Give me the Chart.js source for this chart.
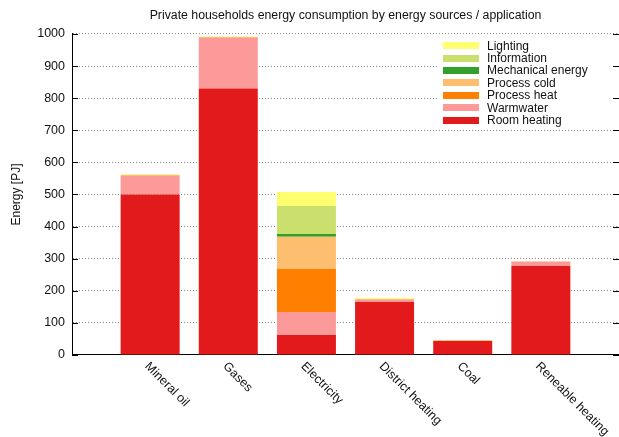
<!DOCTYPE html>
<html>
<head>
<meta charset="utf-8">
<script src="https://cdn.jsdelivr.net/npm/chart.js@4"></script>
<style>
  html, body { margin: 0; padding: 0; background: #fff; }
</style>
</head>
<body>
<canvas id="chart" width="619" height="437"></canvas>
<script>
// energy sources (x) and consumption per application in PJ
const categories = ["Mineral oil", "Gases", "Electricity", "District heating", "Coal", "Reneable heating"];
const roomHeating = [500, 830, 62, 165, 44, 277];
const warmwater   = [60, 160, 72, 9, 0, 14];
const processHeat = [0, 0, 134, 0, 0, 0];
const processCold = [0, 0, 100, 0, 0, 0];
const mechanical  = [0, 0, 9, 0, 0, 0];
const information = [0, 0, 87, 0, 0, 0];
const lighting    = [4, 3, 44, 4, 3, 2];
const yTicks = [0, 100, 200, 300, 400, 500, 600, 700, 800, 900, 1000];

const FONT = "'Liberation Sans', Arial, sans-serif";

// put each category at x = 0..5 so the axis can run from -1 to 6
const pts = arr => arr.map((v, i) => ({x: i, y: v}));

const series = [
  {label: "Room heating",      data: roomHeating, color: "#e31a1c"},
  {label: "Warmwater",         data: warmwater,   color: "#fb9a99"},
  {label: "Process heat",      data: processHeat, color: "#ff7f00"},
  {label: "Process cold",      data: processCold, color: "#fdbf6f"},
  {label: "Mechanical energy", data: mechanical,  color: "#33a02c"},
  {label: "Information",       data: information, color: "#cbdf6e"},
  {label: "Lighting",          data: lighting,    color: "#ffff70"}
];

// legend box inside the plot, top right, last series first
const legendBox = {
  id: "legendBox",
  beforeDatasetsDraw(chart) {
    const ctx = chart.ctx;
    ctx.save();
    ctx.fillStyle = "#fff";
    ctx.fillRect(437, 37, 175, 91);
    ctx.font = "12px " + FONT;
    ctx.textAlign = "left";
    ctx.textBaseline = "middle";
    const ds = chart.data.datasets.slice().reverse();
    ds.forEach((d, i) => {
      const y = 45.7 + i * 12.4;
      ctx.fillStyle = d.backgroundColor;
      ctx.fillRect(443, Math.round(y - 3.5), 36, 7);
      ctx.fillStyle = "#111";
      ctx.fillText(d.label, 487, y + 0.5);
    });
    ctx.restore();
  }
};

// inward ticks on both sides and slanted category labels
const axisDeco = {
  id: "axisDeco",
  afterDraw(chart) {
    const ctx = chart.ctx;
    const {left, right, bottom} = chart.chartArea;
    const ys = chart.scales.y, xs = chart.scales.x;
    ctx.save();
    ctx.strokeStyle = "#000";
    ctx.lineWidth = 1;
    yTicks.forEach(v => {
      const py = Math.round(ys.getPixelForValue(v)) + 0.5;
      ctx.beginPath();
      ctx.moveTo(left, py); ctx.lineTo(left + 6, py);
      ctx.moveTo(right - 6, py); ctx.lineTo(right, py);
      ctx.stroke();
    });
    ctx.fillStyle = "#111";
    ctx.font = "12.5px " + FONT;
    ctx.textAlign = "left";
    ctx.textBaseline = "top";
    categories.forEach((c, i) => {
      const px = xs.getPixelForValue(i);
      ctx.save();
      ctx.translate(px + 1, bottom + 5);
      ctx.rotate(Math.PI / 4);
      ctx.fillText(c, 0, 0);
      ctx.restore();
    });
    ctx.restore();
  }
};

new Chart(document.getElementById("chart"), {
  type: "bar",
  data: {
    datasets: series.map(s => ({
      label: s.label,
      data: pts(s.data),
      backgroundColor: s.color,
      borderWidth: 0,
      barPercentage: 0.755,
      categoryPercentage: 1
    }))
  },
  options: {
    responsive: false,
    animation: false,
    devicePixelRatio: 1,
    layout: {padding: {left: 0, right: 0, top: 0, bottom: 0}},
    plugins: {
      legend: {display: false},
      tooltip: {enabled: false},
      title: {
        display: true,
        fullSize: false,
        text: "Private households energy consumption by energy sources / application",
        color: "#111",
        font: {family: FONT, size: 12.3, weight: "normal", lineHeight: 1.2},
        padding: {top: 8, bottom: 11.2}
      }
    },
    scales: {
      x: {
        type: "linear",
        min: -1,
        max: 6,
        stacked: true,
        offset: false,
        ticks: {display: false, stepSize: 1},
        grid: {display: false, drawTicks: false},
        border: {display: true, color: "#000", width: 1},
        afterFit: s => { s.height = 82; }
      },
      y: {
        min: 0,
        max: 1000,
        stacked: true,
        ticks: {
          stepSize: 100, padding: 7, color: "#111",
          font: {family: FONT, size: 12.5},
          callback: v => String(v)
        },
        grid: {color: "#8c8c8c", drawTicks: false, tickLength: 0},
        border: {display: true, color: "#000", width: 1, dash: [1, 2]},
        title: {
          display: true,
          text: "Energy [PJ]",
          color: "#111",
          font: {family: FONT, size: 12},
          padding: {top: 9, bottom: 0}
        },
        afterFit: s => { s.width = 72; }
      }
    }
  },
  plugins: [legendBox, axisDeco]
});
</script>
</body>
</html>
